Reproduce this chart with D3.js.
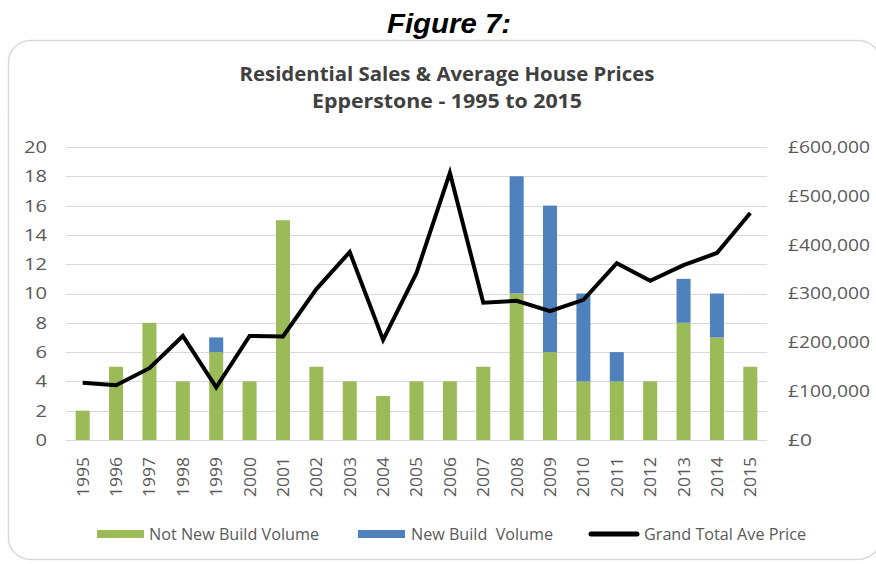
<!DOCTYPE html>
<html>
<head>
<meta charset="utf-8">
<script src="https://cdn.jsdelivr.net/npm/d3@7"></script>
<style>
  body { margin: 0; background: #fff; }
  svg { display: block; }
</style>
</head>
<body>
<div id="chart"></div>
<script>
// ---- dados
var years = ["1995","1996","1997","1998","1999","2000","2001","2002","2003","2004",
             "2005","2006","2007","2008","2009","2010","2011","2012","2013","2014","2015"];
var notNewBuild = [2,5,8,4,6,4,15,5,4,3,4,4,5,10,6,4,4,4,8,7,5];
var newBuild    = [0,0,0,0,1,0,0,0,0,0,0,0,0,8,10,6,2,0,3,3,0];
var avePrice    = [117000,112000,147000,213000,108000,213000,212000,309000,385000,205000,
                   342000,547000,281000,285000,264000,287000,362000,326000,358000,383000,465000];
var volTicks   = [0,2,4,6,8,10,12,14,16,18,20];
var priceTicks = [0,100000,200000,300000,400000,500000,600000];
var seriesNames = ["Not New Build Volume","New Build  Volume","Grand Total Ave Price"];

var W = 876, H = 564,
    plot = {left: 66, right: 767, top: 147, bottom: 440},
    green = "#9bbb59", blue = "#4f81bd", grey = "#595959",
    font = "'Open Sans', 'Liberation Sans', sans-serif";

var svg = d3.select("#chart").append("svg").attr("width", W).attr("height", H);

// ---- titulo da figura
svg.append("text").attr("x", 449).attr("y", 33)
   .attr("text-anchor", "middle")
   .attr("textLength", 124).attr("lengthAdjust", "spacingAndGlyphs")
   .style("font-family", "'Liberation Sans', Arial, sans-serif")
   .style("font-weight", "bold").style("font-style", "italic")
   .style("font-size", "28px").text("Figure 7:");

// ---- moldura
svg.append("rect").attr("x", 8.5).attr("y", 40.5).attr("width", 872).attr("height", 519)
   .attr("rx", 22).attr("fill", "none").attr("stroke", "#d9d9d9").attr("stroke-width", 1.5);

// ---- titulo do grafico
svg.append("text").attr("x", 447).attr("y", 81).attr("text-anchor", "middle")
   .attr("textLength", 415).attr("lengthAdjust", "spacingAndGlyphs")
   .style("font-family", font).style("font-weight", "bold").style("font-size", "19px")
   .attr("fill", "#404040").text("Residential Sales & Average House Prices");
svg.append("text").attr("x", 447).attr("y", 108).attr("text-anchor", "middle")
   .attr("textLength", 270).attr("lengthAdjust", "spacingAndGlyphs")
   .style("font-family", font).style("font-weight", "bold").style("font-size", "19px")
   .attr("fill", "#404040").text("Epperstone - 1995 to 2015");

// ---- escalas
var x = d3.scaleBand().domain(years).range([plot.left, plot.right]).paddingInner(0.58).paddingOuter(0.29);
var yVol = d3.scaleLinear().domain([0, 20]).range([plot.bottom, plot.top]);
var yPrice = d3.scaleLinear().domain([0, 600000]).range([plot.bottom, plot.top]);

// ---- grade
svg.append("g").selectAll("line").data(volTicks).join("line")
   .attr("x1", plot.left).attr("x2", plot.right)
   .attr("y1", function(d){ return Math.round(yVol(d)) + 0.5; })
   .attr("y2", function(d){ return Math.round(yVol(d)) + 0.5; })
   .attr("stroke", "#d9d9d9").attr("stroke-width", 1.2);

// ---- eixos
var axL = svg.append("g").attr("transform", "translate(" + (plot.left - 19) + ",0)")
   .call(d3.axisLeft(yVol).tickValues(volTicks).tickSize(0).tickPadding(0));
var axR = svg.append("g").attr("transform", "translate(" + (plot.right + 21) + ",0)")
   .call(d3.axisRight(yPrice).tickValues(priceTicks).tickSize(0).tickPadding(0)
         .tickFormat(function(d){ return "£" + d3.format(",")(d); }));
var axB = svg.append("g").attr("transform", "translate(0," + plot.bottom + ")")
   .call(d3.axisBottom(x).tickSize(0).tickPadding(0));
[axL, axR, axB].forEach(function(a){
  a.select(".domain").remove();
  a.selectAll("text").attr("fill", grey).style("font-family", font).style("font-size", "17px");
});
axL.selectAll("text").attr("textLength", function(d){ return String(d).length * 11.5; })
   .attr("lengthAdjust", "spacingAndGlyphs");
axR.selectAll("text").attr("textLength", function(d){ return d === 0 ? 24 : (d < 1e6 && d >= 1e5 ? 82 : 60); })
   .attr("lengthAdjust", "spacingAndGlyphs");
axB.selectAll("text")
   .attr("transform", "rotate(-90)").attr("text-anchor", "end")
   .attr("x", -17).attr("y", 0).attr("dy", "0.35em")
   .attr("textLength", 40).attr("lengthAdjust", "spacingAndGlyphs");

// ---- barras empilhadas
var stackData = years.map(function(y, i){ return {year: y, a: notNewBuild[i], b: newBuild[i]}; });
var stacked = d3.stack().keys(["a","b"])(stackData);
var colors = [green, blue];
svg.append("g").selectAll("g").data(stacked).join("g")
   .attr("fill", function(d, i){ return colors[i]; })
   .selectAll("rect").data(function(d){ return d; }).join("rect")
   .attr("x", function(d){ return x(d.data.year); })
   .attr("width", x.bandwidth())
   .attr("y", function(d){ return yVol(d[1]); })
   .attr("height", function(d){ return yVol(d[0]) - yVol(d[1]); });

// ---- linha de preco
var line = d3.line()
   .x(function(d, i){ return x(years[i]) + x.bandwidth() / 2; })
   .y(function(d){ return yPrice(d); });
svg.append("path").datum(avePrice).attr("d", line)
   .attr("fill", "none").attr("stroke", "#000").attr("stroke-width", 4)
   .attr("stroke-linejoin", "miter");

// ---- legenda
var legX = [97, 358, 589],
    legText = [149, 411, 644],
    legW = [170, 142, 162];
var leg = svg.append("g").selectAll("g").data(seriesNames).join("g")
   .attr("transform", "translate(0,534)");
leg.each(function(d, i){
  var g = d3.select(this);
  if (i < 2) {
    g.append("rect").attr("x", legX[i]).attr("y", -4).attr("width", 47).attr("height", 8).attr("fill", colors[i]);
  } else {
    g.append("line").attr("x1", legX[i] + 2).attr("x2", legX[i] + 48).attr("y1", 0).attr("y2", 0)
     .attr("stroke", "#000").attr("stroke-width", 5).attr("stroke-linecap", "round");
  }
  g.append("text").attr("x", legText[i]).attr("y", 0).attr("dy", "0.35em")
   .attr("textLength", legW[i]).attr("lengthAdjust", "spacingAndGlyphs")
   .style("white-space", "pre")
   .attr("fill", grey).style("font-family", font).style("font-size", "16px").text(d);
});
</script>
</body>
</html>
